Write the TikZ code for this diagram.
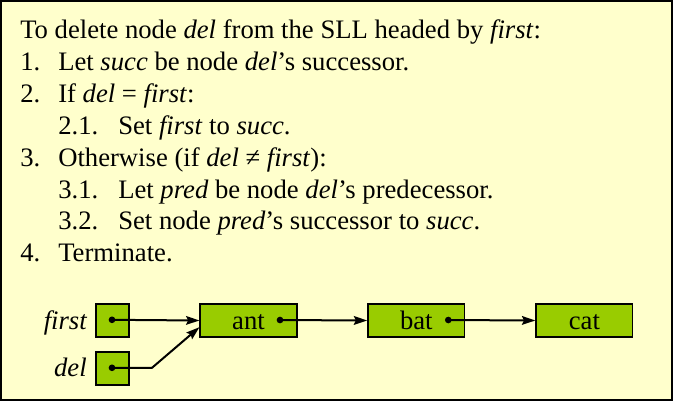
\documentclass[tikz,border=0pt]{standalone}
\usepackage{fontspec}
\setmainfont{Liberation Serif}
\usepackage{xcolor}
\usepackage{tikz}
\usetikzlibrary{arrows.meta, positioning}
\definecolor{Paper}{HTML}{FFFFCC}
\definecolor{NodeGreen}{HTML}{99CC00}
\definecolor{Ink}{HTML}{000000}
\tikzset{
  body/.style={anchor=base west, inner sep=0pt, color=Ink, font=\fontsize{20}{24}\selectfont},
  varname/.style={anchor=base east, inner sep=0pt, color=Ink, font=\fontsize{20}{24}\selectfont\itshape},
  ptrbox/.style={draw=Ink, fill=NodeGreen, line width=1.1pt, minimum width=24.75pt, minimum height=24.75pt, inner sep=0pt},
  elembox/.style={ptrbox, minimum width=72.5pt, text height=14.2pt, text depth=0pt, font=\fontsize{20}{24}\selectfont},
  linkdot/.style={circle, fill=Ink, inner sep=0pt, minimum size=5pt},
  link/.style={-{Stealth[length=10pt, width=6.5pt, inset=1.5pt]}, line width=1.5pt, color=Ink},
  frame/.style={draw=Ink, fill=Paper, line width=1.5pt},
}

\begin{document}
\begin{tikzpicture}[x=0.75pt, y=-0.75pt]
  \useasboundingbox (0,0) rectangle (673,401);
  \draw[frame] (1,1) rectangle (672,400);

  % Algorithm text
  \node[body] (head) at (20,38.5) {To delete node \textit{del} from the SLL headed by \textit{first}:};
  \node[body] (n1)  at (20,70.4)   {1.};
  \node[body] (s1)  at (58,70.4)   {Let \textit{succ} be node \textit{del}’s successor.};
  \node[body] (n2)  at (20,102.3)  {2.};
  \node[body] (s2)  at (58,102.3)  {If \textit{del} = \textit{first}:};
  \node[body] (n21) at (58,134.2)  {2.1.};
  \node[body] (s21) at (118,134.2) {Set \textit{first} to \textit{succ}.};
  \node[body] (n3)  at (20,166.1)  {3.};
  \node[body] (s3)  at (58,166.1)  {Otherwise (if \textit{del} ≠ \textit{first}):};
  \node[body] (n31) at (58,198)    {3.1.};
  \node[body] (s31) at (118,198)   {Let \textit{pred} be node \textit{del}’s predecessor.};
  \node[body] (n32) at (58,229.9)  {3.2.};
  \node[body] (s32) at (118,229.9) {Set node \textit{pred}’s successor to \textit{succ}.};
  \node[body] (n4)  at (20,261.8)  {4.};
  \node[body] (s4)  at (58,261.8)  {Terminate.};

  % Pointer variables
  \node[ptrbox] (firstbox) at (112.5,320.5) {};
  \node[ptrbox] (delbox) at (112.5,368.3) {};
  \node[varname] (firstlbl) at (87,329.3) {first};
  \node[varname] (dellbl) at (87,376.7) {del};
  \node[linkdot] (firstptr) at (112,319.8) {};
  \node[linkdot] (delptr) at (112,367.8) {};

  % List nodes
  \node[elembox] (ant) at (248.5,320.5) {ant};
  \node[elembox] (bat) at (416.3,320.5) {bat};
  \node[elembox] (cat) at (584.4,320.5) {cat};
  \node[linkdot] (antptr) at (280,320) {};
  \node[linkdot] (batptr) at (448.3,320) {};

  % Links
  \draw[link] (firstptr.center) -- (ant.west);
  \draw[link] (antptr.center) -- (bat.west);
  \draw[link] (batptr.center) -- (cat.west);
  \draw[link] (delptr.center) -- ++(40,0) -- ([yshift=-5pt]ant.west);
\end{tikzpicture}
\end{document}
